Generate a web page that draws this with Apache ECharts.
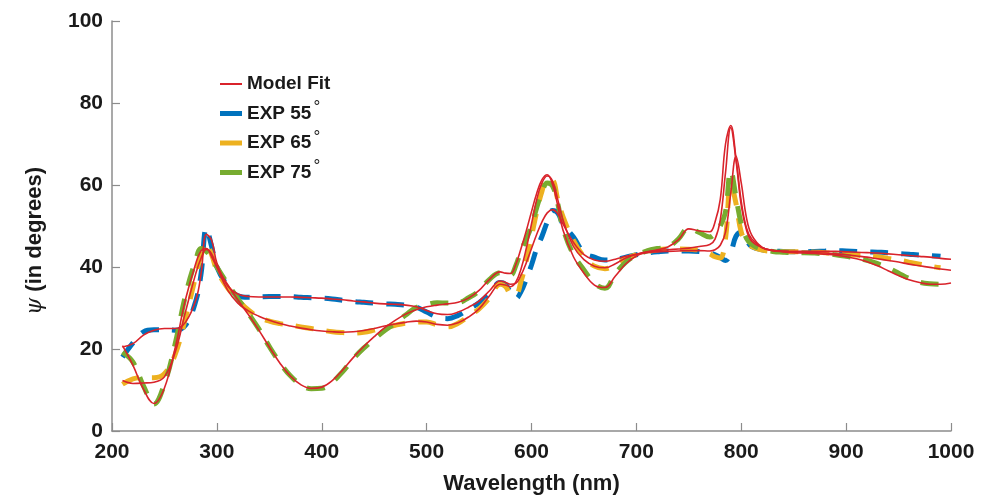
<!DOCTYPE html>
<html>
<head>
<meta charset="utf-8">
<script src="https://cdn.jsdelivr.net/npm/echarts@6/dist/echarts.min.js"></script>
<style>
  html, body { margin: 0; padding: 0; background: #ffffff; }
  #chart { width: 986px; height: 500px; }
</style>
</head>
<body>
<div id="chart"></div>
<script>
// Wavelength grid (nm), shared by every curve
const wavelength = [
  210, 220, 230, 240, 250, 260, 270, 280, 285, 290, 295, 300,
  310, 320, 330, 340, 350, 360, 370, 380, 390, 400, 410, 420, 430, 440, 450, 460, 470, 480, 490, 500, 510, 520, 530, 540, 550, 560, 570,
  575, 580, 585, 590, 595, 600, 605, 610, 615, 620, 625,
  630, 640, 650, 660, 670, 680, 690, 700, 710, 720, 730, 740, 750, 760, 770,
  775, 780, 785, 790, 795, 800, 805,
  810, 820, 830, 840, 850, 860, 870, 880, 890, 900, 910, 920, 930, 940, 950, 960, 970, 980, 990, 1000
];

// Measured psi (degrees) at 55, 65 and 75 degree incidence
const exp55 = [
  18.0, 21.5, 24.2, 24.7, 24.7, 24.6, 25.8, 31.8, 38.5, 49.5, 45.0, 40.0,
  35.5, 33.0, 32.6, 32.7, 32.8, 32.8, 32.8, 32.6, 32.5, 32.4, 32.2, 31.9, 31.6, 31.4, 31.2, 31.0, 30.9, 30.7, 30.2, 29.0, 27.8, 27.4, 28.2, 29.7, 31.3, 33.5, 36.2,
  35.8, 33.8, 32.3, 34.0, 37.0, 40.5, 44.5, 47.5, 51.0, 53.8, 53.2,
  50.5, 47.3, 43.5, 42.4, 41.7, 41.8, 42.4, 43.0, 43.4, 43.7, 43.9, 43.9, 43.9, 43.8, 43.4,
  43.0, 42.3, 41.6, 43.5, 47.5, 48.5, 46.5,
  45.0, 44.2, 43.9, 43.8, 43.7, 43.7, 43.8, 43.9, 44.0, 43.9, 43.8, 43.7, 43.6, 43.5, 43.3, 43.1, 42.9, 42.8, 42.6, null
];
const exp65 = [
  11.4, 12.7, 13.0, 13.0, 14.0, 18.5, 27.5, 38.0, 43.0, 45.3, 43.0, 39.2,
  35.0, 32.0, 29.5, 27.8, 26.8, 26.2, 25.8, 25.4, 25.0, 24.6, 24.2, 24.0, 23.9, 24.1, 24.6, 25.2, 25.8, 26.3, 26.6, 26.6, 25.9, 25.4, 26.3, 28.0, 29.8, 32.5, 35.8,
  35.3, 33.5, 33.3, 36.5, 41.5, 47.5, 53.5, 58.5, 61.5, 61.3, 56.5,
  52.3, 46.5, 42.5, 40.2, 39.6, 40.6, 42.0, 43.0, 43.7, 44.2, 44.4, 44.4, 44.3, 44.1, 43.2,
  42.5, 42.2, 47.0, 60.5, 55.5, 48.5, 46.0,
  45.0, 44.1, 43.8, 43.7, 43.7, 43.7, 43.6, 43.5, 43.3, 43.1, 42.9, 42.7, 42.5, 42.1, 41.7, 41.2, 40.7, 40.2, 39.8, null
];
const exp75 = [
  19.2, 16.8, 11.0, 6.6, 11.5, 21.0, 33.0, 41.8, 44.5, 43.8, 42.2, 40.0,
  36.0, 32.3, 28.7, 24.9, 20.6, 16.7, 13.5, 11.3, 10.3, 10.4, 11.9, 14.5, 17.6, 20.2, 22.4, 24.5, 26.3, 28.3, 30.1, 30.8, 31.3, 31.2, 31.3, 32.5, 34.2, 37.0, 38.6,
  38.6, 38.0, 40.3, 44.0, 46.8, 50.0, 54.5, 58.3, 60.5, 59.8, 55.5,
  49.5, 43.0, 39.3, 36.0, 34.8, 38.4, 41.2, 42.9, 43.9, 44.5, 44.9, 46.8, 49.5, 48.4, 47.3,
  48.2, 50.0, 53.5, 63.5, 57.0, 50.5, 47.0,
  45.5, 44.3, 43.8, 43.6, 43.5, 43.5, 43.4, 43.2, 43.0, 42.6, 42.2, 41.6, 40.8, 39.8, 38.5, 37.2, 36.3, 35.9, 35.8, null
];

// Model fits for each angle
const fit55 = [
  20.5, 21.3, 23.4, 24.6, 25.0, 25.0, 26.5, 32.0, 38.5, 48.0, 46.5, 41.0,
  35.5, 33.4, 32.8, 32.7, 32.7, 32.7, 32.7, 32.6, 32.5, 32.4, 32.2, 32.0, 31.7, 31.5, 31.2, 31.0, 30.9, 30.7, 30.3, 29.4, 28.6, 28.4, 29.0, 30.2, 31.7, 34.2, 36.6,
  36.3, 35.8, 36.0, 38.0, 41.0, 44.5, 48.0, 51.0, 53.2, 54.0, 53.0,
  50.5, 46.0, 43.0, 41.7, 41.4, 41.9, 42.6, 43.1, 43.5, 43.7, 43.8, 43.9, 44.0, 44.0, 43.9,
  44.2, 45.3, 48.5, 58.0, 67.0, 60.5, 52.0,
  47.8, 44.8, 44.1, 43.9, 43.8, 43.8, 43.8, 43.8, 43.8, 43.7, 43.6, 43.5, 43.4, 43.2, 43.0, 42.8, 42.6, 42.4, 42.1, 41.9
];
const fit65 = [
  12.3, 11.6, 11.7, 11.9, 13.2, 19.0, 29.0, 38.5, 42.2, 44.3, 43.2, 40.0,
  34.5, 31.2, 29.3, 28.0, 27.0, 26.2, 25.6, 25.1, 24.7, 24.4, 24.2, 24.1, 24.2, 24.5, 25.0, 25.6, 26.1, 26.5, 26.8, 26.6, 26.0, 25.8, 26.4, 27.8, 29.8, 33.0, 35.8,
  35.6, 35.2, 36.3, 39.5, 44.5, 50.5, 56.5, 60.5, 62.2, 61.0, 56.5,
  51.5, 45.0, 41.8, 40.2, 39.8, 40.8, 42.2, 43.1, 43.7, 44.0, 44.2, 44.4, 44.6, 45.0, 45.5,
  46.8, 51.5, 63.0, 74.0, 66.0, 55.0, 49.0,
  46.3, 44.7, 44.0, 43.8, 43.7, 43.6, 43.5, 43.4, 43.2, 43.0, 42.7, 42.4, 42.0, 41.6, 41.2, 40.7, 40.3, 39.9, 39.5, 39.2
];
const fit75 = [
  20.8, 16.0, 10.2, 6.7, 10.5, 20.0, 32.0, 41.0, 44.0, 44.5, 42.5, 40.0,
  35.8, 32.0, 28.4, 24.6, 20.5, 16.6, 13.4, 11.3, 10.4, 10.7, 12.3, 14.9, 17.9, 20.6, 23.0, 25.2, 27.0, 28.5, 29.6, 30.3, 30.7, 31.0, 31.4, 32.4, 34.3, 37.0, 38.8,
  38.5, 38.4, 40.6, 44.5, 48.8, 53.5, 58.0, 61.3, 62.5, 60.2, 55.0,
  49.0, 42.5, 38.5, 35.6, 35.0, 37.8, 40.8, 42.7, 43.6, 44.2, 44.9, 46.6, 49.3, 48.8, 48.6,
  51.0, 56.5, 70.0, 74.5, 66.5, 56.0, 49.5,
  46.8, 44.7, 44.0, 43.7, 43.5, 43.4, 43.3, 43.1, 42.9, 42.5, 42.0, 41.3, 40.3, 39.1, 37.9, 36.9, 36.2, 35.8, 35.8, 36.1
];

const xTicks = { min: 200, max: 1000, step: 100 };
const yTicks = { min: 0, max: 100, step: 20 };

const FONT = '"Liberation Sans", Arial, Helvetica, sans-serif';
const TEXT = '#1a1a1a';
const AXIS = '#8c8c8c';
const RED = '#d9232b';
const BLUE = '#0072bd';
const ORANGE = '#edb120';
const GREEN = '#77ac30';

const toPairs = ys => wavelength.map((x, i) => [x, ys[i]]).filter(p => p[1] !== null);

const expSeries = (name, ys, color) => ({
  name, type: 'line', data: toPairs(ys),
  symbol: 'none', showSymbol: false, smooth: 0.4, z: 2,
  itemStyle: { color },
  lineStyle: { color, width: 5, type: [18, 13], cap: 'butt' }
});
const fitSeries = ys => ({
  name: 'Model Fit', type: 'line', data: toPairs(ys),
  symbol: 'none', showSymbol: false, smooth: 0.4, z: 3,
  itemStyle: { color: RED },
  lineStyle: { color: RED, width: 1.6 }
});

const chart = echarts.init(document.getElementById('chart'), null, { renderer: 'canvas' });
chart.setOption({
  animation: false,
  backgroundColor: '#ffffff',
  grid: { left: 112, right: 35, top: 21, bottom: 68 },
  legend: {
    orient: 'vertical', left: 215, top: 68,
    itemWidth: 22, itemHeight: 14, itemGap: 4,
    itemStyle: { borderWidth: 0 },
    data: [
      { name: 'Model Fit', icon: 'path://M0,0H22V2H0Z' },
      { name: 'EXP 55°', icon: 'path://M0,0H22V5H0Z' },
      { name: 'EXP 65°', icon: 'path://M0,0H22V5H0Z' },
      { name: 'EXP 75°', icon: 'path://M0,0H22V5H0Z' }
    ],
    formatter: n => {
      const i = n.indexOf('°');
      return i < 0 ? n : n.slice(0, i) + '{d|°}';
    },
    textStyle: {
      fontFamily: FONT, fontWeight: 'bold', fontSize: 19, color: TEXT, lineHeight: 22,
      rich: { d: { fontFamily: FONT, fontSize: 17, fontWeight: 'normal', color: TEXT, padding: [0, 0, 12, 2] } }
    }
  },
  xAxis: {
    type: 'value', min: xTicks.min, max: xTicks.max, interval: xTicks.step,
    name: 'Wavelength (nm)', nameLocation: 'middle', nameGap: 42,
    nameTextStyle: { fontFamily: FONT, fontWeight: 'bold', fontSize: 22, color: TEXT },
    axisLine: { show: true, onZero: false, lineStyle: { color: AXIS, width: 1.5 } },
    axisTick: { show: true, inside: true, length: 8, lineStyle: { color: AXIS, width: 1.2 } },
    axisLabel: { fontFamily: FONT, fontWeight: 'bold', fontSize: 21, color: TEXT, margin: 11, formatter: v => String(v) },
    splitLine: { show: false }
  },
  yAxis: {
    type: 'value', min: yTicks.min, max: yTicks.max, interval: yTicks.step,
    name: '{i|ψ} (in degrees)', nameLocation: 'middle', nameRotate: 90, nameGap: 66,
    nameTextStyle: {
      fontFamily: FONT, fontWeight: 'bold', fontSize: 22, color: TEXT,
      padding: [0, 30, 0, 0],
      rich: { i: { fontFamily: '"DejaVu Serif", serif', fontStyle: 'italic', fontWeight: 'normal', fontSize: 22, color: TEXT } }
    },
    axisLine: { show: true, onZero: false, lineStyle: { color: AXIS, width: 1.5 } },
    axisTick: { show: true, inside: true, length: 8, lineStyle: { color: AXIS, width: 1.2 } },
    axisLabel: { fontFamily: FONT, fontWeight: 'bold', fontSize: 21, color: TEXT, margin: 9, formatter: v => String(v) },
    splitLine: { show: false }
  },
  series: [
    expSeries('EXP 55°', exp55, BLUE),
    expSeries('EXP 65°', exp65, ORANGE),
    expSeries('EXP 75°', exp75, GREEN),
    fitSeries(fit55),
    fitSeries(fit65),
    fitSeries(fit75)
  ]
});
</script>
</body>
</html>
